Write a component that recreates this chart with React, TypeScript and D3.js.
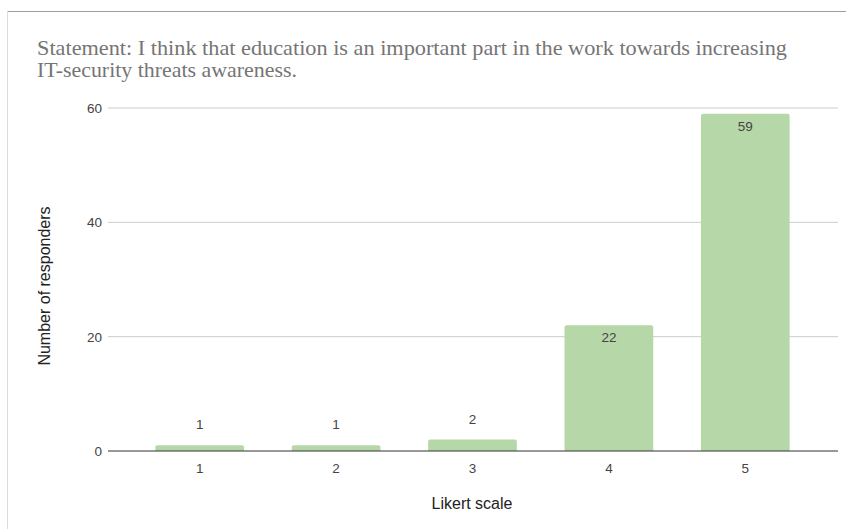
import React from "react";
import * as d3 from "d3";

const categories = ["1", "2", "3", "4", "5"];
const values = [1, 1, 2, 22, 59];
const yTicks = [0, 20, 40, 60];
const titleLines = [
  "Statement: I think that education is an important part in the work towards increasing",
  "IT-security threats awareness.",
];
const titleWidths = [750, 260];
const xTitle = "Likert scale";
const yTitle = "Number of responders";

const SANS = "Liberation Sans, Arial, sans-serif";

export default function App() {
  const W = 846, H = 529;
  const left = 108, right = 838, top = 108, bottom = 451;
  const x = d3.scaleBand<string>().domain(categories).range([left + 23.5, right - 24.5]).paddingInner(0.35).paddingOuter(0.175);
  const y = d3.scaleLinear().domain([0, 60]).range([bottom, top]);
  return (
    <svg width={W} height={H} style={{ position: "absolute", left: 0, top: 0, background: "#fff" }}>
      <rect x={0} y={0} width={W} height={H} fill="#fff" />
      <line x1={7} x2={W} y1={11.5} y2={11.5} stroke="#9e9e9e" />
      <line x1={7.5} x2={7.5} y1={11} y2={H} stroke="#dcdcdc" />
      {titleLines.map((t, i) => (
        <text key={i} x={37} y={55 + i * 22} fontFamily="Liberation Serif, Times New Roman, serif" fontSize={21} fill="#757575" textLength={titleWidths[i]} lengthAdjust="spacingAndGlyphs">{t}</text>
      ))}
      {yTicks.map((t) => (
        <g key={t}>
          {t !== 0 && <line x1={left} x2={right} y1={y(t)} y2={y(t)} stroke="#cccccc" />}
          <text x={102} y={y(t) + 5} textAnchor="end" fontFamily={SANS} fontSize={13.5} fill="#444">{t}</text>
        </g>
      ))}
      {categories.map((c, i) => {
        const v = values[i];
        const bx = x(c)!;
        const bw = x.bandwidth();
        const yt = y(v);
        const inside = bottom - yt > 30;
        return (
          <g key={c}>
            <path d={`M${bx},${bottom} V${yt + 2} Q${bx},${yt} ${bx + 2},${yt} H${bx + bw - 2} Q${bx + bw},${yt} ${bx + bw},${yt + 2} V${bottom} Z`} fill="#b6d7a8" />
            <text x={bx + bw / 2} y={inside ? yt + 17 : yt - 16} textAnchor="middle" fontFamily={SANS} fontSize={13.5} fill="#444">{v}</text>
            <text x={bx + bw / 2} y={473} textAnchor="middle" fontFamily={SANS} fontSize={13.5} fill="#444">{c}</text>
          </g>
        );
      })}
      <line x1={left} x2={right} y1={bottom} y2={bottom} stroke="#333" strokeWidth={1} />
      <text x={472} y={509} textAnchor="middle" fontFamily={SANS} fontSize={16} fill="#222">{xTitle}</text>
      <text transform={`translate(50,286) rotate(-90)`} textAnchor="middle" fontFamily={SANS} fontSize={16} fill="#222">{yTitle}</text>
    </svg>
  );
}
